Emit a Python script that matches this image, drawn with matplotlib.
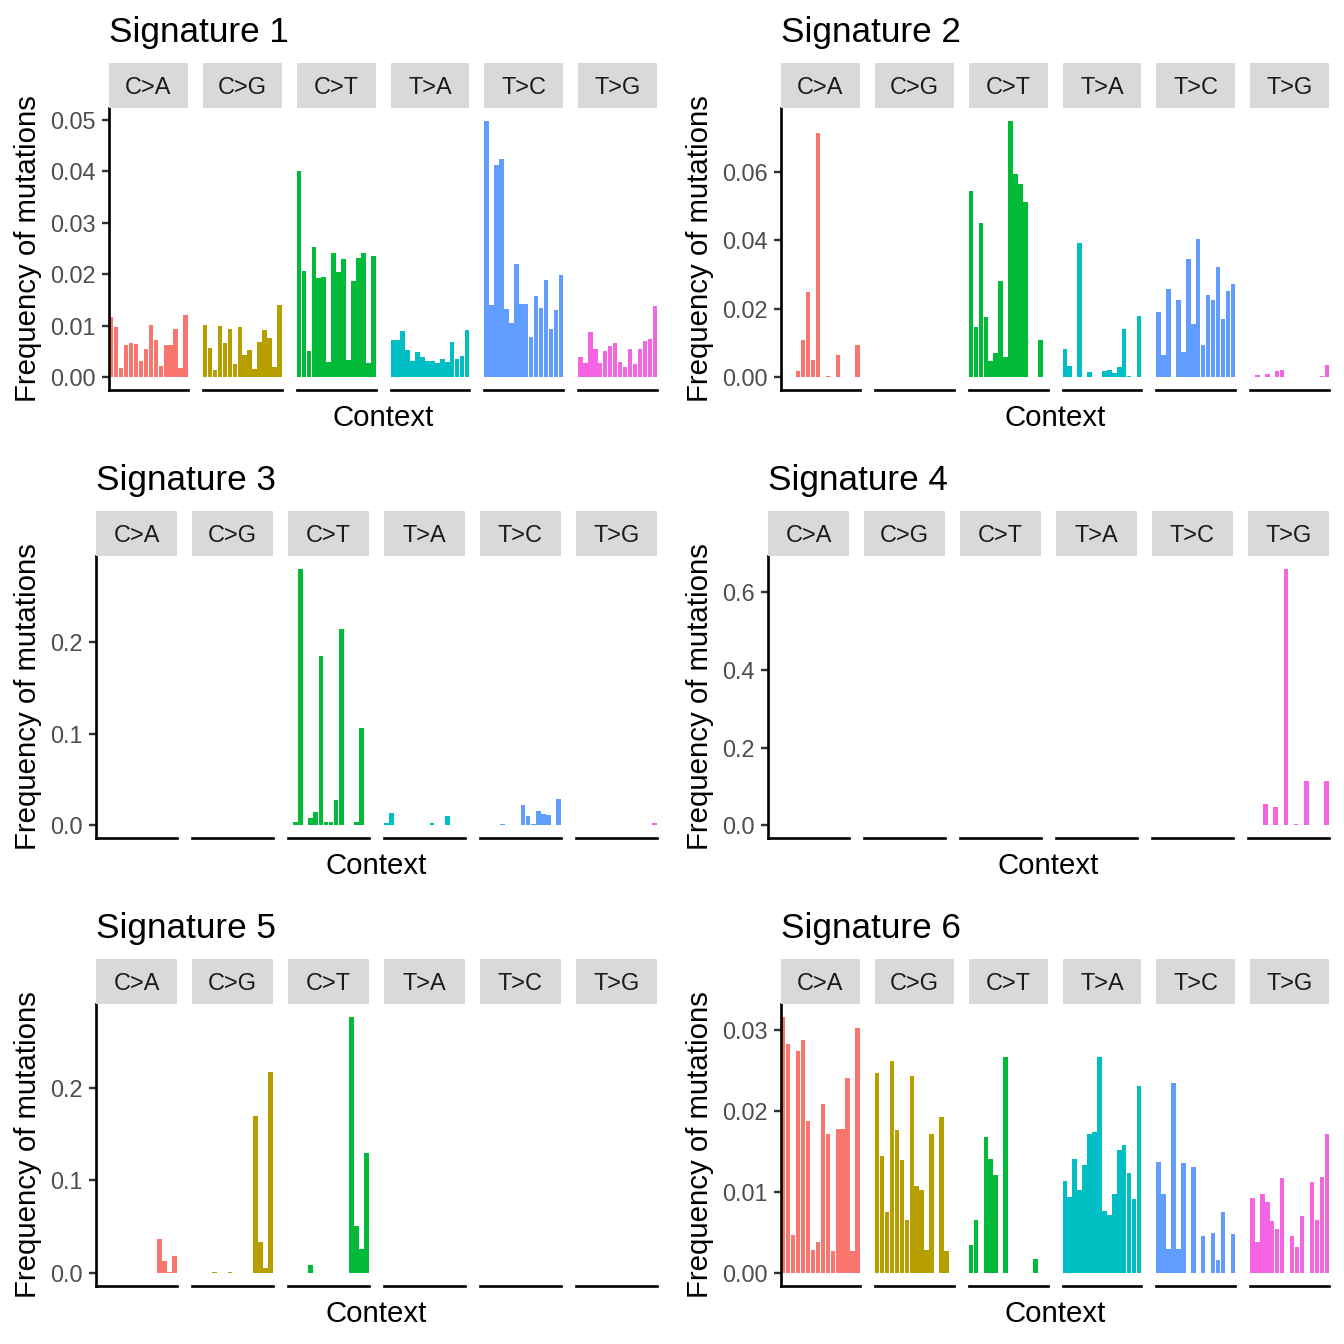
import matplotlib.pyplot as plt
import numpy as np

plt.rcParams['font.family'] = ['Liberation Sans', 'DejaVu Sans']

# 突变类型与配色（ggplot 默认色相）
mut_types = ['C>A', 'C>G', 'C>T', 'T>A', 'T>C', 'T>G']
type_colors = ['#F8766D', '#B79F00', '#00BA38', '#00BFC4', '#619CFF', '#F564E3']
sig_names = ['Signature 1', 'Signature 2', 'Signature 3',
             'Signature 4', 'Signature 5', 'Signature 6']

# 每个签名 96 个值，按突变类型每行 16 个
sig1 = [
    0.0116, 0.0098, 0.0018, 0.0063, 0.0067, 0.0065, 0.0032, 0.0054, 0.0102, 0.0073, 0.0021, 0.0062, 0.0063, 0.0093, 0.0017, 0.0120,
    0.0102, 0.0056, 0.0013, 0.0100, 0.0067, 0.0094, 0.0025, 0.0098, 0.0044, 0.0052, 0.0015, 0.0069, 0.0091, 0.0077, 0.0019, 0.0141,
    0.0401, 0.0207, 0.0050, 0.0252, 0.0193, 0.0195, 0.0029, 0.0242, 0.0205, 0.0230, 0.0034, 0.0186, 0.0232, 0.0242, 0.0027, 0.0236,
    0.0073, 0.0073, 0.0089, 0.0052, 0.0032, 0.0048, 0.0040, 0.0032, 0.0032, 0.0027, 0.0036, 0.0029, 0.0069, 0.0036, 0.0042, 0.0091,
    0.0498, 0.0141, 0.0413, 0.0424, 0.0133, 0.0106, 0.0219, 0.0143, 0.0143, 0.0079, 0.0158, 0.0135, 0.0188, 0.0093, 0.0131, 0.0199,
    0.0040, 0.0027, 0.0087, 0.0054, 0.0027, 0.0050, 0.0060, 0.0067, 0.0029, 0.0019, 0.0054, 0.0025, 0.0054, 0.0071, 0.0075, 0.0139,
]
sig2 = [
    0, 0, 0, 0.0019, 0.0110, 0.0250, 0.0049, 0.0715, 0, 0.0003, 0, 0.0066, 0, 0, 0, 0.0095,
    0, 0, 0, 0, 0, 0, 0, 0, 0, 0, 0, 0, 0, 0, 0, 0,
    0.0545, 0.0148, 0.0452, 0.0177, 0.0046, 0.0072, 0.0282, 0.0060, 0.0750, 0.0595, 0.0566, 0.0513, 0, 0, 0.0110, 0,
    0.0081, 0.0034, 0, 0.0393, 0, 0.0014, 0, 0, 0.0017, 0.0022, 0.0011, 0.0031, 0.0142, 0.0002, 0, 0.0180,
    0.0192, 0.0066, 0.0259, 0, 0.0227, 0.0075, 0.0347, 0.0157, 0.0405, 0.0093, 0.0239, 0.0227, 0.0323, 0.0171, 0.0253, 0.0274,
    0, 0.0005, 0, 0.0008, 0, 0.0017, 0.0022, 0, 0, 0, 0, 0, 0, 0, 0.0002, 0.0037,
]
sig3 = [
    0, 0, 0, 0, 0, 0, 0, 0, 0, 0.0004, 0.0004, 0, 0, 0, 0, 0,
    0, 0, 0, 0, 0, 0, 0, 0, 0, 0, 0, 0, 0, 0, 0, 0,
    0, 0.0036, 0.2800, 0, 0.0080, 0.0149, 0.1850, 0.0036, 0.0036, 0.0280, 0.2145, 0, 0, 0.0036, 0.1065, 0,
    0.0029, 0.0138, 0, 0, 0, 0, 0, 0, 0, 0.0029, 0, 0, 0.0105, 0, 0, 0,
    0, 0, 0, 0, 0.0018, 0, 0, 0, 0.0215, 0.0095, 0.0018, 0.0160, 0.0127, 0.0116, 0, 0.0290,
    0, 0, 0, 0, 0, 0.0007, 0, 0, 0, 0, 0, 0, 0, 0, 0.0007, 0.0029,
]
sig4 = [
    0, 0, 0, 0, 0, 0, 0, 0, 0, 0, 0, 0, 0, 0, 0, 0,
    0, 0, 0, 0, 0, 0, 0, 0, 0, 0, 0, 0, 0, 0, 0, 0,
    0, 0, 0, 0, 0, 0, 0, 0, 0, 0, 0, 0, 0, 0, 0, 0,
    0, 0, 0, 0, 0, 0, 0, 0, 0, 0, 0, 0, 0, 0, 0, 0,
    0, 0, 0, 0, 0, 0, 0, 0, 0, 0, 0, 0, 0, 0, 0, 0,
    0, 0, 0, 0.0558, 0, 0.0480, 0, 0.6610, 0, 0.0043, 0, 0.1150, 0, 0, 0, 0.1150,
]
sig5 = [
    0, 0, 0, 0, 0, 0, 0, 0, 0, 0, 0, 0, 0.0373, 0.0136, 0.0018, 0.0190,
    0, 0, 0, 0, 0.0018, 0, 0, 0.0018, 0, 0, 0, 0, 0.1700, 0.0340, 0.0061, 0.2170,
    0.0007, 0, 0, 0, 0.0093, 0, 0, 0, 0, 0, 0, 0.0007, 0.2765, 0.0513, 0.0266, 0.1300,
    0, 0, 0, 0, 0, 0, 0, 0, 0, 0, 0, 0, 0, 0, 0, 0,
    0, 0, 0, 0, 0, 0, 0, 0, 0, 0, 0, 0, 0, 0, 0, 0,
    0, 0, 0, 0, 0, 0, 0, 0, 0, 0, 0, 0, 0, 0, 0, 0,
]
sig6 = [
    0.0316, 0.0283, 0.0047, 0.0274, 0.0288, 0.0188, 0.0028, 0.0039, 0.0208, 0.0172, 0.0027, 0.0178, 0.0178, 0.0240, 0.0027, 0.0302,
    0.0247, 0.0144, 0.0075, 0.0262, 0.0176, 0.0140, 0.0066, 0.0243, 0.0108, 0.0103, 0.0029, 0.0171, 0, 0.0192, 0.0027, 0,
    0.0035, 0.0065, 0, 0.0168, 0.0141, 0.0121, 0, 0.0266, 0, 0, 0, 0, 0, 0.0017, 0, 0,
    0.0114, 0.0094, 0.0141, 0.0103, 0.0133, 0.0171, 0.0174, 0.0266, 0.0077, 0.0072, 0.0097, 0.0152, 0.0158, 0.0124, 0.0092, 0.0231,
    0.0137, 0.0097, 0.0030, 0.0235, 0.0030, 0.0136, 0, 0.0131, 0, 0.0046, 0, 0.0049, 0.0016, 0.0075, 0, 0.0048,
    0.0093, 0.0039, 0.0098, 0.0088, 0.0064, 0.0054, 0.0117, 0, 0.0046, 0.0032, 0.0070, 0, 0.0113, 0.0065, 0.0118, 0.0171,
]
signatures = [sig1, sig2, sig3, sig4, sig5, sig6]
y_steps = [0.01, 0.02, 0.1, 0.2, 0.1, 0.01]

# 版面（像素）
W = H = 1344
CELL_W, CELL_H = 672, 448
panel_lefts = [109, 109, 96, 96, 96, 109]
PANEL_RIGHT = 657
GAP = 15
STRIP_TOP, PANEL_TOP, PANEL_BOTTOM = 63, 108, 390


def fx(x):
    return x / W


def fy(y):
    return 1 - y / H


def draw_signature(fig, vals, name, col, row, left, step):
    x0, y0 = col * CELL_W, row * CELL_H
    vals = np.array(vals).reshape(6, 16)
    vmax = vals.max()
    lo, hi = -0.05 * vmax, 1.05 * vmax
    facet_w = (PANEL_RIGHT - left - 5 * GAP) / 6
    dec = int(-np.floor(np.log10(step)))
    ticks = np.arange(0, hi, step)

    for k in range(6):
        fl = x0 + left + k * (facet_w + GAP)
        ax = fig.add_axes([fx(fl), fy(y0 + PANEL_BOTTOM), facet_w / W,
                           (PANEL_BOTTOM - PANEL_TOP) / H])
        ax.bar(np.arange(1, 17), vals[k], width=0.9, color=type_colors[k])
        ax.set_xlim(0.55, 16.45)
        ax.set_ylim(lo, hi)
        ax.set_xticks([])
        for s in ['top', 'right']:
            ax.spines[s].set_visible(False)
        ax.spines['bottom'].set_linewidth(1.0)
        ax.spines['bottom'].set_color('black')
        if k == 0:
            ax.spines['left'].set_linewidth(1.0)
            ax.spines['left'].set_color('black')
            ax.set_yticks(ticks)
            ax.set_yticklabels([f'{t:.{dec}f}' for t in ticks])
            ax.tick_params(axis='y', labelsize=8.8, labelcolor='#4D4D4D',
                           color='#333333', length=2.75, width=0.9, pad=2.2)
        else:
            ax.spines['left'].set_visible(False)
            ax.set_yticks([])

        # 分面标签
        sax = fig.add_axes([fx(fl), fy(y0 + PANEL_TOP), facet_w / W,
                            (PANEL_TOP - STRIP_TOP) / H])
        sax.set_facecolor('#D9D9D9')
        sax.set_xticks([])
        sax.set_yticks([])
        for s in sax.spines.values():
            s.set_visible(False)
        sax.text(0.5, 0.46, mut_types[k], ha='center', va='center',
                 fontsize=8.8, color='#1A1A1A', transform=sax.transAxes)

    fig.text(fx(x0 + left), fy(y0 + 42), name, ha='left', va='baseline',
             fontsize=13.2)
    fig.text(fx(x0 + 28), fy(y0 + (PANEL_TOP + PANEL_BOTTOM) / 2),
             'Frequency of mutations', rotation=90, ha='center', va='center',
             fontsize=11)
    fig.text(fx(x0 + (left + PANEL_RIGHT) / 2), fy(y0 + 426), 'Context',
             ha='center', va='baseline', fontsize=11)


fig = plt.figure(figsize=(7, 7), dpi=192)
for i in range(6):
    draw_signature(fig, signatures[i], sig_names[i], i % 2, i // 2,
                   panel_lefts[i], y_steps[i])

fig.savefig('out.png', dpi=192, facecolor='white')
